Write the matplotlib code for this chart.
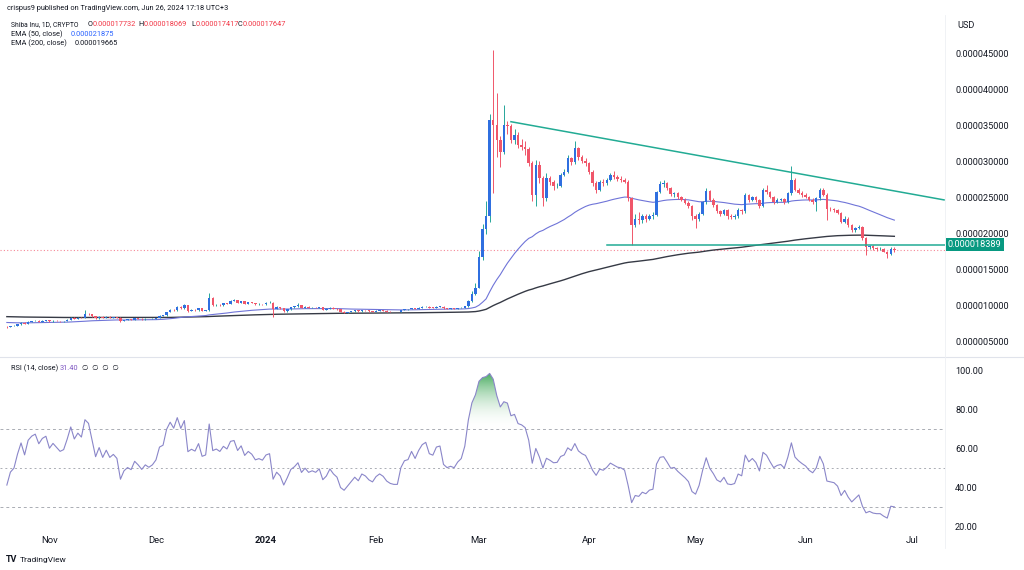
import numpy as np
import pandas as pd
import matplotlib
matplotlib.use('Agg')
import matplotlib.pyplot as plt
from matplotlib.colors import LinearSegmentedColormap

plt.rcParams['font.family'] = ['Roboto', 'DejaVu Sans']

# ---------------- data (prices in units of 1e-6 USD) ----------------
first_open = 6.95

close_oct = [6.92, 7.07, 7.12, 7.32, 7.52, 7.37, 7.67, 7.77, 7.82, 7.70, 7.82, 7.87]
high_oct = [7.02, 7.12, 7.20, 7.38, 7.60, 7.58, 7.72, 7.85, 7.90, 7.88, 7.88, 7.95]
low_oct = [6.86, 6.88, 7.02, 7.08, 7.28, 7.32, 7.34, 7.62, 7.72, 7.64, 7.66, 7.78]

close_nov = [7.72, 7.82, 7.77, 7.72, 7.75, 7.95, 8.25, 8.10, 8.25, 8.20, 8.75, 8.70, 8.45, 8.15, 8.40,
             8.20, 8.40, 8.25, 8.33, 8.25, 7.75, 7.95, 8.03, 7.98, 8.18, 8.10, 8.00, 8.10, 8.05, 8.10]
high_nov = [7.92, 7.88, 7.86, 7.82, 7.80, 8.00, 8.32, 8.30, 8.30, 8.32, 9.35, 8.95, 8.75, 8.50, 8.48,
            8.45, 8.45, 8.45, 8.38, 8.38, 8.30, 7.98, 8.08, 8.06, 8.22, 8.22, 8.14, 8.14, 8.12, 8.15]
low_nov = [7.66, 7.68, 7.74, 7.68, 7.68, 7.72, 7.90, 8.04, 8.06, 8.14, 8.16, 8.62, 8.40, 8.08, 8.12,
           8.15, 8.16, 8.20, 8.22, 8.20, 7.70, 7.72, 7.92, 7.95, 7.96, 8.06, 7.96, 7.98, 8.02, 8.02]

close_dec = [8.20, 8.50, 8.55, 9.05, 9.35, 9.25, 9.75, 9.55, 9.95, 9.20, 9.30, 9.25, 9.55, 9.20, 9.25,
             10.95, 9.95, 10.05, 9.95, 10.25, 10.15, 10.60, 10.65, 10.30, 10.55, 10.20, 10.40, 10.30,
             10.10, 10.15, 10.10]
high_dec = [8.25, 8.55, 8.62, 9.10, 9.42, 9.45, 9.85, 9.80, 10.10, 10.00, 9.40, 9.38, 9.62, 9.60, 9.32,
            11.65, 11.10, 10.15, 10.10, 10.32, 10.30, 10.70, 10.80, 10.70, 10.62, 10.60, 10.48, 10.45,
            10.35, 10.22, 10.20]
low_dec = [8.05, 8.15, 8.42, 8.50, 9.00, 9.20, 9.15, 9.48, 9.50, 9.10, 9.15, 9.20, 9.20, 9.15, 9.15,
           9.20, 9.85, 9.90, 9.88, 9.90, 10.08, 10.10, 10.52, 10.25, 10.25, 10.15, 10.15, 10.25, 10.05,
           10.05, 10.05]

close_jan = [10.30, 10.35, 9.45, 9.70, 9.55, 9.15, 9.40, 9.70, 9.80, 9.95, 9.60, 9.75, 9.60, 9.65, 9.60,
             9.70, 9.35, 9.45, 9.65, 9.50, 9.40, 9.05, 8.95, 9.05, 9.15, 9.25, 9.15, 9.30, 9.25, 9.15, 9.10]
high_jan = [10.40, 10.50, 10.45, 9.80, 9.78, 9.60, 9.48, 9.78, 9.90, 10.25, 10.00, 9.82, 9.80, 9.70, 9.70,
            9.78, 9.75, 9.52, 9.70, 9.70, 9.55, 9.45, 9.12, 9.10, 9.20, 9.32, 9.28, 9.36, 9.34, 9.30, 9.20]
low_jan = [10.05, 10.22, 8.40, 9.38, 9.48, 9.10, 9.10, 9.35, 9.62, 9.75, 9.55, 9.55, 9.55, 9.55, 9.55,
           9.55, 9.30, 9.30, 9.40, 9.45, 9.35, 8.98, 8.85, 8.90, 9.00, 9.10, 9.10, 9.10, 9.20, 9.10, 9.02]

close_feb = [9.20, 9.25, 9.20, 9.10, 9.05, 9.03, 9.03, 9.28, 9.40, 9.42, 9.57, 9.47, 9.62, 9.74, 9.79,
             9.64, 9.62, 9.77, 9.79, 9.54, 9.49, 9.51, 9.49, 9.57, 9.62, 9.82, 10.52, 11.52, 12.42]
high_feb = [9.26, 9.32, 9.30, 9.25, 9.15, 9.10, 9.08, 9.35, 9.48, 9.50, 9.62, 9.62, 9.68, 9.80, 9.86,
            9.82, 9.70, 9.82, 9.85, 9.82, 9.60, 9.56, 9.56, 9.62, 9.68, 9.90, 10.65, 12.00, 13.00]
low_feb = [9.05, 9.15, 9.15, 9.05, 9.00, 8.98, 8.98, 9.00, 9.24, 9.35, 9.38, 9.42, 9.44, 9.58, 9.70,
           9.60, 9.56, 9.58, 9.72, 9.50, 9.44, 9.44, 9.45, 9.45, 9.52, 9.58, 9.78, 10.45, 11.40]

close_mar = [16.70, 20.50, 22.30, 35.70, 35.00, 32.90, 31.30, 35.00, 34.80, 32.90, 33.60, 32.20, 32.00,
             31.60, 29.70, 25.30, 29.50, 27.60, 24.80, 27.60, 27.10, 26.50, 26.60, 28.10, 28.50, 30.40,
             29.90, 31.80, 30.50, 30.00, 29.70]
high_mar = [17.50, 21.20, 24.50, 36.50, 45.40, 39.40, 33.50, 37.80, 35.60, 35.20, 34.50, 34.00, 33.00,
            32.80, 32.00, 30.00, 30.20, 30.00, 27.90, 28.30, 27.90, 27.40, 27.00, 28.40, 28.90, 30.90,
            30.60, 32.80, 32.00, 30.90, 30.40]
low_mar = [12.30, 16.20, 19.80, 21.60, 25.60, 30.60, 29.20, 31.00, 33.80, 32.50, 32.40, 31.80, 31.50,
           30.80, 29.30, 24.50, 23.70, 27.00, 23.70, 24.40, 26.70, 26.00, 26.20, 26.40, 27.90, 28.30,
           29.40, 29.60, 30.20, 29.70, 29.30]

close_apr = [28.50, 27.00, 26.00, 27.10, 26.90, 27.40, 28.10, 27.80, 27.50, 27.40, 27.10, 24.80, 21.10,
             22.00, 21.80, 22.30, 22.00, 22.40, 22.50, 25.70, 26.80, 26.90, 26.20, 25.40, 25.50, 25.00,
             24.60, 24.20, 23.70, 22.30]
high_apr = [29.90, 28.70, 27.20, 27.40, 27.50, 27.60, 28.30, 28.60, 28.00, 27.90, 27.60, 27.30, 25.00,
            22.60, 22.90, 22.60, 22.60, 22.70, 22.90, 25.90, 27.20, 27.30, 27.10, 26.40, 25.70, 25.70,
            25.20, 24.80, 24.40, 23.90]
low_apr = [28.20, 26.60, 25.60, 25.80, 26.50, 26.70, 27.20, 27.50, 27.20, 27.10, 26.90, 24.50, 18.30,
           20.80, 21.30, 21.40, 21.60, 21.80, 21.90, 22.40, 25.50, 26.40, 26.00, 25.20, 25.00, 24.70,
           24.40, 24.00, 23.50, 21.80]

close_may = [21.90, 22.70, 24.30, 25.90, 24.60, 23.90, 23.00, 22.70, 23.20, 22.30, 22.20, 22.30, 23.20,
             23.00, 25.30, 24.60, 25.00, 24.60, 23.70, 26.00, 25.70, 25.00, 24.35, 24.60, 24.70, 24.35,
             25.50, 27.40, 26.00, 25.60, 25.30]
high_may = [22.60, 22.90, 24.50, 26.20, 26.00, 24.80, 24.10, 23.20, 23.40, 23.40, 22.60, 22.60, 23.50,
            23.40, 25.50, 25.40, 25.20, 25.10, 24.70, 26.20, 26.70, 25.90, 25.20, 24.90, 24.90, 24.80,
            25.70, 29.30, 27.60, 26.20, 25.80]
low_may = [20.70, 21.70, 22.50, 24.10, 24.40, 23.60, 22.80, 22.40, 22.50, 22.00, 21.90, 22.00, 22.10,
           22.70, 22.80, 24.30, 24.50, 24.30, 23.50, 23.60, 25.40, 24.80, 24.10, 24.20, 24.40, 24.10,
           24.20, 25.30, 25.80, 25.40, 25.00]

close_jun = [25.05, 24.60, 24.35, 24.80, 26.00, 25.30, 23.40, 23.30, 23.20, 22.80, 21.60, 22.00, 21.10,
             20.40, 20.65, 20.90, 19.30, 18.10, 18.20, 17.90, 17.80, 17.80, 17.40, 17.10, 17.732, 17.647]
high_jun = [25.50, 25.20, 24.80, 25.00, 26.20, 26.20, 25.50, 23.60, 23.50, 23.30, 22.90, 22.40, 22.20,
            21.30, 20.80, 21.10, 21.00, 19.50, 18.40, 18.30, 18.10, 18.00, 17.90, 17.50, 18.10, 18.069]
low_jun = [24.80, 24.40, 24.10, 23.00, 24.60, 25.10, 21.80, 23.00, 22.90, 22.60, 21.40, 21.40, 20.90,
           20.20, 20.20, 20.50, 19.10, 16.90, 17.80, 17.70, 17.50, 17.60, 17.30, 16.50, 17.00, 17.417]

# indicator seeds (state just before the first visible bar)
ema50_seed = 7.6
ema200_seed = 8.4
rsi_seed_gain = 0.040
rsi_seed_loss = 0.055

# drawings
support_level = 18.389
support_start = '2024-04-06'
trend_dates = ['2024-03-10', '2024-07-10']
trend_vals = [35.46, 24.60]

price_ticks = [5, 10, 15, 20, 25, 30, 35, 40, 45]
rsi_ticks = [20, 40, 60, 80, 100]
month_dates = ['2023-11-01', '2023-12-01', '2024-01-01', '2024-02-01', '2024-03-01',
               '2024-04-01', '2024-05-01', '2024-06-01', '2024-07-01']
month_labels = ['Nov', 'Dec', '2024', 'Feb', 'Mar', 'Apr', 'May', 'Jun', 'Jul']

# ---------------- assemble ----------------
closes = np.array(close_oct + close_nov + close_dec + close_jan + close_feb + close_mar +
                  close_apr + close_may + close_jun)
highs = np.array(high_oct + high_nov + high_dec + high_jan + high_feb + high_mar +
                 high_apr + high_may + high_jun)
lows = np.array(low_oct + low_nov + low_dec + low_jan + low_feb + low_mar +
                low_apr + low_may + low_jun)
dates = pd.date_range('2023-10-20', '2024-06-26', freq='D')
assert len(dates) == len(closes) == len(highs) == len(lows), (len(dates), len(closes), len(highs), len(lows))
opens = np.concatenate([[first_open], closes[:-1]])
highs = np.maximum(highs, np.maximum(opens, closes))
lows = np.minimum(lows, np.minimum(opens, closes))

ref = pd.Timestamp('2024-01-01')
def dnum(d):
    return (pd.to_datetime(d) - ref) / pd.Timedelta(days=1)
x = np.asarray(dnum(dates), dtype=float)


def ema(vals, n, seed):
    a = 2.0 / (n + 1)
    e = seed
    out = []
    for v in vals:
        e = e + a * (v - e)
        out.append(e)
    return np.array(out)


def rsi(vals, prev, n, ag, al):
    out = []
    p = prev
    for c in vals:
        d = c - p
        ag = (ag * (n - 1) + max(d, 0)) / n
        al = (al * (n - 1) + max(-d, 0)) / n
        out.append(100 - 100 / (1 + ag / al) if al > 0 else 100.0)
        p = c
    return np.array(out)

ema50 = ema(closes, 50, ema50_seed)
ema200 = ema(closes, 200, ema200_seed)
rsi14 = rsi(closes, first_open, 14, rsi_seed_gain, rsi_seed_loss)

# ---------------- figure ----------------
W, H = 1024, 570
fig = plt.figure(figsize=(W / 100, H / 100), dpi=100)
fig.patch.set_facecolor('white')

def fx(px):
    return px / W

def fy(py):
    return 1 - py / H

plot_right = 945
ax = fig.add_axes([0, fy(356), fx(plot_right), (356 - 15) / H])
axr = fig.add_axes([0, fy(530), fx(plot_right), (530 - 358) / H])

px_per_day = 3.55
x_jan1_px = 266
xl = ((0 - x_jan1_px) / px_per_day, (plot_right - x_jan1_px) / px_per_day)
for a in (ax, axr):
    a.set_xlim(*xl)
    for s in a.spines.values():
        s.set_visible(False)
    a.set_facecolor('none')

ax.set_ylim(2.92, 50.28)
axr.set_ylim(17.94, 106.6)

UP_BODY = '#2f6fe0'
UP_WICK = '#26a69a'
DN = '#f0566a'

up = closes >= opens
body_col = np.where(up, UP_BODY, DN)
wick_col = np.where(up, UP_WICK, DN)

# EMAs
ax.plot(x, ema200, color='#363a45', lw=1.0, zorder=2)
ax.plot(x, ema50, color='#6f74d8', lw=0.8, zorder=2)

ax.vlines(x, lows, highs, colors=wick_col, lw=0.7, zorder=3)
ax.bar(x, np.maximum(np.abs(closes - opens), 0.05), bottom=np.minimum(opens, closes),
       width=0.7, color=body_col, linewidth=0, zorder=4)

# last price dotted line
ax.axhline(closes[-1], color='#f0566a', lw=0.8, ls=(0, (1, 2)), alpha=0.7, zorder=1)

# trend lines
ax.plot(dnum(trend_dates), trend_vals, color='#22ab94', lw=1.1, zorder=5)
ax.plot([dnum(support_start), xl[1]], [support_level, support_level], color='#22ab94', lw=1.1, zorder=5)

# price axis
ax.yaxis.tick_right()
ax.set_yticks(price_ticks)
ax.set_yticklabels([f'{v * 1e-6:.9f}' for v in price_ticks])
ax.tick_params(axis='y', length=0, pad=7.2, labelsize=6.6, labelcolor='#131722')
ax.tick_params(axis='x', length=0, labelbottom=False)

# price label box
ax.text(1.003, support_level, f'{support_level * 1e-6:.9f}', transform=ax.get_yaxis_transform(),
        ha='left', va='center', fontsize=6.6, color='white', zorder=10, clip_on=False,
        bbox=dict(boxstyle='square,pad=0.25', fc='#089981', ec='none'))

fig.text(fx(957), fy(25), 'USD', fontsize=6.6, color='#131722', va='center', ha='left')

# RSI panel
axr.plot(x, rsi14, color='#8a86c9', lw=0.8, zorder=5)
for lvl, ls in [(70, (0, (3, 3))), (50, (0, (2, 3))), (30, (0, (3, 3)))]:
    axr.axhline(lvl, color='#9598a1', lw=0.7, ls=ls, alpha=0.8, zorder=1)

green_cmap = LinearSegmentedColormap.from_list('g', [(1, 1, 1, 0), (0.16, 0.62, 0.27, 0.95)])
red_cmap = LinearSegmentedColormap.from_list('r', [(0.94, 0.30, 0.35, 0.8), (1, 1, 1, 0)])
poly = axr.fill_between(x, 70, np.maximum(rsi14, 70), color='none', lw=0)
grad = np.linspace(0, 1, 256).reshape(-1, 1)
im = axr.imshow(grad, extent=[x[0], x[-1], 70, 100], origin='lower', aspect='auto',
                cmap=green_cmap, zorder=3)
im.set_clip_path(poly.get_paths()[0], transform=axr.transData)
poly2 = axr.fill_between(x, np.minimum(rsi14, 30), 30, color='none', lw=0)
im2 = axr.imshow(grad, extent=[x[0], x[-1], 0, 30], origin='lower', aspect='auto',
                 cmap=red_cmap, zorder=3)
im2.set_clip_path(poly2.get_paths()[0], transform=axr.transData)
axr.set_xlim(*xl)
axr.set_ylim(17.94, 106.6)

axr.yaxis.tick_right()
axr.set_yticks(rsi_ticks)
axr.set_yticklabels([f'{v:.2f}' for v in rsi_ticks])
axr.tick_params(axis='y', length=0, pad=7.2, labelsize=6.6, labelcolor='#131722')
axr.set_xticks(dnum(month_dates))
axr.set_xticklabels(month_labels)
axr.tick_params(axis='x', length=0, pad=4, labelsize=6.8, labelcolor='#131722')
axr.get_xticklabels()[2].set_fontweight('bold')

# separators
fig.add_artist(plt.Line2D([0, 1], [fy(357), fy(357)], color='#e0e3eb', lw=0.8))
fig.add_artist(plt.Line2D([fx(plot_right), fx(plot_right)], [fy(15), fy(548)], color='#eef0f4', lw=0.6))

# header / legends
TXT = '#131722'
RED = '#f23645'
fs_leg = 5.3
fig.text(fx(7), fy(9), 'crispus9 published on TradingView.com, Jun 26, 2024 17:18 UTC+3',
         fontsize=fs_leg, color=TXT, va='center', ha='left')

fig.text(fx(11), fy(25), 'Shiba Inu, 1D, CRYPTO', fontsize=4.9, color=TXT, va='center')
for lab, val, xp in [('O', '0.000017732', 87.3), ('H', '0.000018069', 138), ('L', '0.000017417', 191),
                     ('C', '0.000017647', 237.3)]:
    t1 = fig.text(fx(xp), fy(25), lab, fontsize=fs_leg, color=TXT, va='center')
    ax.annotate(val, xy=(1, 0.5), xycoords=t1, xytext=(0.3, 0), textcoords='offset points',
                va='center', ha='left', fontsize=fs_leg, color=RED, annotation_clip=False)

fig.text(fx(11), fy(34.5), 'EMA (50, close)', fontsize=fs_leg, color=TXT, va='center')
fig.text(fx(71), fy(34.5), '0.000021875', fontsize=fs_leg, color='#2962ff', va='center')
fig.text(fx(11), fy(43.5), 'EMA (200, close)', fontsize=fs_leg, color=TXT, va='center')
fig.text(fx(75), fy(43.5), '0.000019665', fontsize=fs_leg, color=TXT, va='center')

fig.text(fx(11), fy(368), 'RSI (14, close)', fontsize=fs_leg, color=TXT, va='center')
fig.text(fx(60), fy(368), '31.40', fontsize=fs_leg, color='#7e57c2', va='center')
fig.text(fx(82), fy(368), '\u2205  \u2205  \u2205  \u2205', fontsize=fs_leg, color=TXT, va='center')

# TradingView logo
fig.text(fx(6), fy(560), 'TV', fontsize=6.5, color=TXT, va='center', fontweight='bold')
fig.text(fx(19.5), fy(560), 'TradingView', fontsize=6.0, color=TXT, va='center')

fig.savefig('out.png', dpi=100, facecolor='white')
